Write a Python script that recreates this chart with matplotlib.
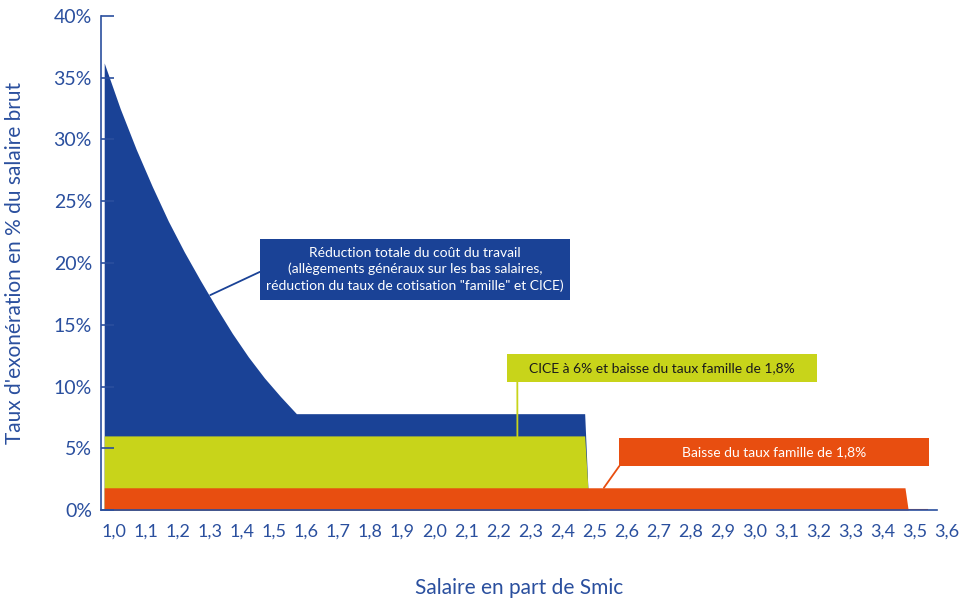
import matplotlib.pyplot as plt
from matplotlib.patches import Rectangle
from matplotlib.transforms import ScaledTranslation

# salaire en part de Smic / taux d'exonération (% du salaire brut)
salaire_total = [1.0, 1.05, 1.1, 1.15, 1.2, 1.25, 1.3, 1.35, 1.4, 1.45, 1.5, 1.55, 1.6, 2.5, 2.51]
taux_total = [36.2, 32.5, 29.2, 26.2, 23.4, 20.9, 18.6, 16.4, 14.3, 12.4, 10.7, 9.2, 7.8, 7.8, 1.8]

salaire_cice = [1.0, 2.5, 2.51]
taux_cice = [6.0, 6.0, 1.8]

salaire_famille = [1.0, 3.5, 3.51, 3.57]
taux_famille = [1.8, 1.8, 0.0, 0.0]

xticks = [1.0, 1.1, 1.2, 1.3, 1.4, 1.5, 1.6, 1.7, 1.8, 1.9, 2.0, 2.1, 2.2, 2.3, 2.4,
          2.5, 2.6, 2.7, 2.8, 2.9, 3.0, 3.1, 3.2, 3.3, 3.4, 3.5, 3.6]
yticks = [0, 5, 10, 15, 20, 25, 30, 35, 40]

BLEU = "#1a4296"
VERT = "#c8d41a"
ORANGE = "#e84e10"
AXE = "#2a4f9e"

plt.rcParams["font.family"] = ["Lato", "DejaVu Sans"]

fig = plt.figure(figsize=(9.69, 6.02), dpi=100)
ax = fig.add_axes([101 / 969, 1 - 510 / 602, 836 / 969, 494 / 602])

ax.fill_between(salaire_total, 0, taux_total, color=BLEU, lw=0)
ax.fill_between(salaire_cice, 0, taux_cice, color=VERT, lw=0)
ax.fill_between(salaire_famille, 0, taux_famille, color=ORANGE, lw=0)
ax.plot(salaire_famille[-2:], taux_famille[-2:], color=ORANGE, lw=1.5)

ax.set_xlim(0.99, 3.6)
ax.set_ylim(0, 40)

for s in ["top", "right"]:
    ax.spines[s].set_visible(False)
for s in ["left", "bottom"]:
    ax.spines[s].set_color(AXE)
    ax.spines[s].set_linewidth(1.2)

ax.set_yticks(yticks)
ax.set_yticklabels([f"{v}%" for v in yticks], fontsize=14, color=AXE)
ax.tick_params(axis="y", direction="in", length=9, width=1.2, color=AXE, pad=6.5)

ax.set_xticks(xticks)
ax.set_xticklabels([f"{v:.1f}".replace(".", ",") for v in xticks], fontsize=13, color=AXE)
ax.tick_params(axis="x", length=0, pad=10)
shift = ScaledTranslation(0.1, 0, fig.dpi_scale_trans)
for lab in ax.get_xticklabels():
    lab.set_transform(lab.get_transform() + shift)

fig.text(15 / 969, 1 - 263 / 602, "Taux d'exonération en % du salaire brut",
         rotation=90, ha="center", va="center", fontsize=15, color=AXE)
fig.text(519 / 969, 1 - 588 / 602, "Salaire en part de Smic",
         ha="center", va="center", fontsize=15, color=AXE)


def encadre(x0, y0, x1, y1, texte, fond, couleur_texte, cible, depart, couleur_trait):
    ax.add_patch(Rectangle((x0, y0), x1 - x0, y1 - y0, transform=ax.transAxes,
                           facecolor=fond, edgecolor="none", zorder=5, clip_on=False))
    ax.text((x0 + x1) / 2, (y0 + y1) / 2, texte, transform=ax.transAxes,
            ha="center", va="center", fontsize=10, color=couleur_texte,
            linespacing=1.35, zorder=6)
    ax.annotate("", xy=cible, xycoords="data", xytext=depart, textcoords="axes fraction",
                arrowprops=dict(arrowstyle="-", color=couleur_trait, lw=1.3,
                                shrinkA=0, shrinkB=0), zorder=4)


encadre(0.190, 0.425, 0.561, 0.549,
        "Réduction totale du coût du travail\n(allègements généraux sur les bas salaires,\n"
        "réduction du taux de cotisation \"famille\" et CICE)",
        BLEU, "white", (1.331, 17.4), (0.190, 0.482), BLEU)
encadre(0.486, 0.259, 0.856, 0.316,
        "CICE à 6% et baisse du taux famille de 1,8%",
        VERT, "#1a1a1a", (2.29, 5.95), (0.498, 0.259), VERT)
encadre(0.620, 0.089, 0.990, 0.146,
        "Baisse du taux famille de 1,8%",
        ORANGE, "white", (2.56, 1.8), (0.620, 0.089), ORANGE)

fig.savefig("out.png", dpi=100)
